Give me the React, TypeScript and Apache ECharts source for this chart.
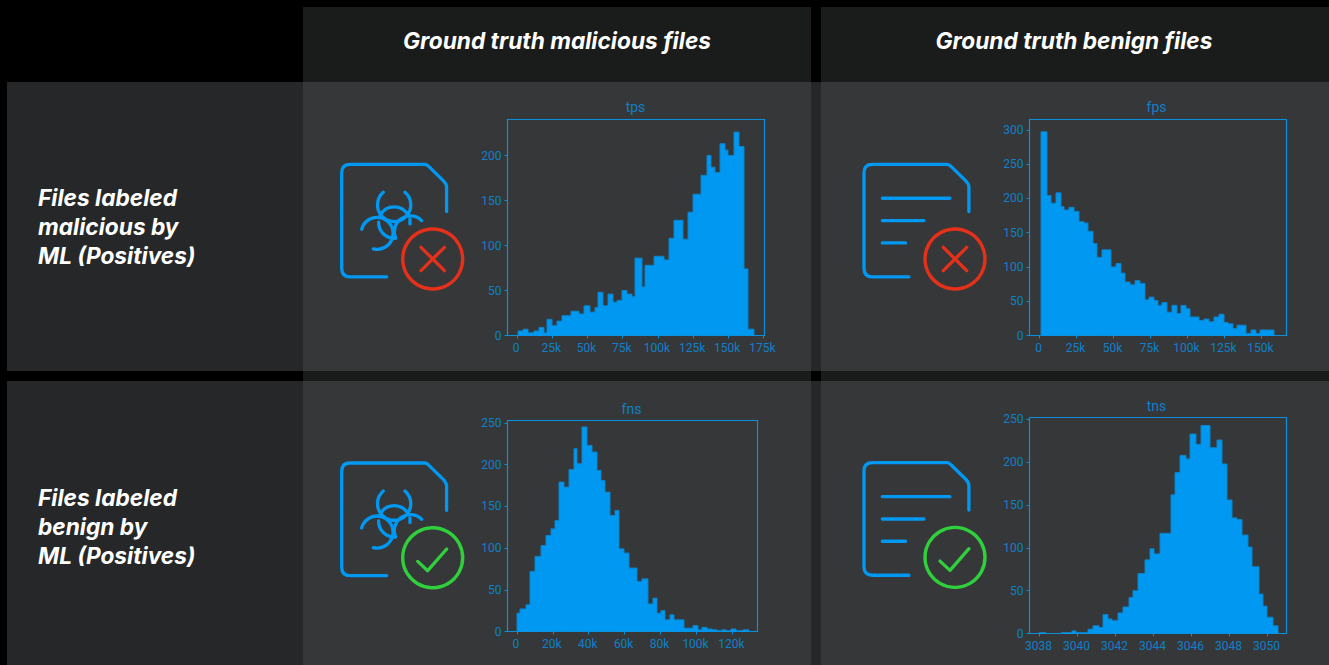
import React, { useEffect, useRef } from "react";
import * as echarts from "echarts";

const columnTitles = ["Ground truth malicious files", "Ground truth benign files"];
const rowLabels = [
  ["Files labeled", "malicious by", "ML (Positives)"],
  ["Files labeled", "benign by", "ML (Positives)"],
];

const tpsEdges = [0.71,4.27,7.83,11.86,15.42,18.98,21.35,24.91,28.46,32.02,38.19,44.12,47.68,51.47,55.03,57.4,60.96,64.52,68.08,70.69,74.24,78.04,81.6,83.97,88.71,91.08,97.25,104.37,108.16,111.72,117.65,121.21,125,130.93,134.73,138.05,140.66,144.22,147.78,150.15,154.18,157.74,161.3,163.91,168.65];
const tpsCounts = [5,7,3,5,9,3,18,11,16,22,27,24,33,26,31,48,33,46,37,39,50,46,43,86,54,78,88,84,108,128,107,137,157,178,200,187,181,213,206,200,226,210,74,7];
const tpsXTicks = [0,25,50,75,100,125,150,175];
const tpsYTicks = [0,50,100,150,200];

const fpsEdges = [0.68,5.18,7.66,11.04,14.41,16.67,20.05,23.42,26.35,29.73,32.66,35.81,38.96,41.89,48.42,51.8,55.18,57.88,60.81,64.64,67.57,70.95,73.65,77.48,80.18,82.88,86.04,89.64,92.79,95.27,98.65,101.8,107.88,111.04,114.64,118.02,121.4,124.55,127.48,130.41,133.78,139.41,143.02,146.4,148.65,158.78];
const fpsCounts = [297,204,193,208,188,183,187,181,166,164,152,134,114,125,100,105,91,78,74,80,76,52,56,51,44,48,34,44,32,44,39,27,22,24,20,27,31,19,17,10,15,3,8,3,8];
const fpsXTicks = [0,25,50,75,100,125,150];
const fpsYTicks = [0,50,100,150,200,250,300];

const fnsEdges = [0,1.86,4.83,7.43,10.22,13.37,15.98,18.76,21.36,23.41,26.19,28.98,31.77,33.62,36.22,39.01,41.8,44.58,46.63,49.23,52.01,54.8,57.03,59.44,62.42,66.87,69.85,72.82,75.6,78.02,80.43,82.66,85.26,87.49,93.07,98.27,100.87,103.28,105.7,108.48,111.27,114.06,116.47,119.07,122.05,126.13,129.1];
const fnsCounts = [22,27,32,72,90,103,115,123,133,179,173,194,219,201,245,223,215,193,181,167,139,145,99,94,76,60,63,33,40,22,25,14,20,14,4,7,2,5,3,2,1,2,1,3,1,2];
const fnsXTicks = [0,20,40,60,80,100,120];
const fnsYTicks = [0,50,100,150,200,250];

const tnsEdges = [3038,3038.33,3039.11,3039.7,3039.93,3040.53,3040.82,3041.12,3041.32,3041.61,3041.82,3042.11,3042.42,3042.72,3042.91,3043.21,3043.53,3043.81,3044.02,3044.32,3044.91,3045.11,3045.4,3045.7,3045.91,3046.23,3046.51,3046.98,3047.32,3047.6,3047.89,3048.12,3048.4,3048.68,3048.98,3049.18,3049.56,3049.75,3049.96,3050.28,3050.56];
const tnsCounts = [1,0,1,3,1,5,9,7,22,17,15,24,31,42,50,70,86,99,93,117,162,188,208,204,233,221,243,217,226,198,156,135,133,115,101,78,46,32,19,9];
const tnsXTicks = [3038,3040,3042,3044,3046,3048,3050];
const tnsYTicks = [0,50,100,150,200,250];

const C = {
  page: "#000000",
  column: "#1a1c1b",
  row: "#262728",
  cell: "#363739",
  fill: "#0098f0",
  edge: "#0a84cc",
  frame: "#0a8fdc",
  label: "#0f80c8",
  icon: "#0098f0",
  red: "#e5301a",
  green: "#2fd03c",
};
const HEAD_FONT = "Inter";
const AXIS_FONT = "Roboto";

const panels = [
  { name: "tps", edges: tpsEdges, counts: tpsCounts, xTicks: tpsXTicks, yTicks: tpsYTicks, suffix: "k", xMin: -6.88, xMax: 175.76, yMax: 240, l: 507.5, r: 764.5, t: 119.5, b: 335.5, titleX: 635, titleY: 95 },
  { name: "fps", edges: fpsEdges, counts: fpsCounts, xTicks: fpsXTicks, yTicks: fpsYTicks, suffix: "k", xMin: -6.76, xMax: 166.89, yMax: 315, l: 1029.5, r: 1286.5, t: 119.5, b: 335.5, titleX: 1156, titleY: 95 },
  { name: "fns", edges: fnsEdges, counts: fnsCounts, xTicks: fnsXTicks, yTicks: fnsYTicks, suffix: "k", xMin: -5.2, xMax: 133.93, yMax: 252.8, l: 507.5, r: 757.5, t: 420.5, b: 631.5, titleX: 631, titleY: 397 },
  { name: "tns", edges: tnsEdges, counts: tnsCounts, xTicks: tnsXTicks, yTicks: tnsYTicks, suffix: "", xMin: 3037.474, xMax: 3051, yMax: 252.3, l: 1029.5, r: 1286.5, t: 417.5, b: 633.5, titleX: 1156, titleY: 394 },
];

function renderBin(_params: any, api: any) {
  const x0 = Math.round(api.coord([api.value(0), 0])[0]);
  const x1 = Math.round(api.coord([api.value(1), 0])[0]);
  const base = api.coord([0, 0])[1];
  const top = api.coord([0, api.value(2)])[1];
  const prev = api.coord([0, api.value(3)])[1];
  const line = { stroke: C.edge, lineWidth: 1, fill: "none" };
  const children: any[] = [];
  if (x1 > x0 && top < base) {
    children.push({ type: "rect", shape: { x: x0, y: top, width: x1 - x0, height: base - top }, style: { fill: C.fill } });
    children.push({ type: "line", shape: { x1: x0, y1: top, x2: x1, y2: top }, style: line });
  }
  if (prev !== top) {
    children.push({ type: "line", shape: { x1: x0, y1: prev, x2: x0, y2: top }, style: line });
  }
  return { type: "group", children };
}

const docPath = "M135 338H25Q0 338 0 312V25Q0 0 25 0H250Q256 0 262 7L305 49Q315 59 315 69V142";
const bioPath =
  "M125 84A50 50 0 1 0 190 84M95 254A48 48 0 1 0 60 195M240 169A48 48 0 0 0 162 222M115 155A47 47 0 0 1 200 155M111 174A47 47 0 0 0 162 222M205 165V179";
const textLinesPath = "M55 102H258M55 169H180M55 236H125";

echarts.graphic.registerShape("iconDoc", echarts.graphic.extendPath(docPath, {}) as any);
echarts.graphic.registerShape("iconBio", echarts.graphic.extendPath(bioPath, {}) as any);
echarts.graphic.registerShape("iconLines", echarts.graphic.extendPath(textLinesPath, {}) as any);

const rect = (x: number, y: number, w: number, h: number, fill: string, z = -10) => ({
  type: "rect", z, silent: true, shape: { x, y, width: w, height: h }, style: { fill },
});

function iconGraphics(ox: number, oy: number, malicious: boolean, positive: boolean) {
  const s = 1 / 3;
  const base = { x: ox, y: oy, scaleX: s, scaleY: s, z: 5, silent: true };
  const stroke = { fill: "none", stroke: C.icon, lineWidth: 10, lineCap: "round", lineJoin: "round" };
  const out: any[] = [{ type: "iconDoc", ...base, style: stroke }];
  out.push(malicious ? { type: "iconBio", ...base, style: stroke } : { type: "iconLines", ...base, style: stroke });
  const cx = ox + 91;
  const cy = oy + 94.7;
  const color = positive ? C.red : C.green;
  const mark = { fill: "none", stroke: color, lineWidth: 3.3, lineCap: "round", lineJoin: "round" };
  out.push({ type: "circle", z: 5, silent: true, shape: { cx, cy, r: 30 }, style: { fill: "none", stroke: color, lineWidth: 3.4 } });
  if (positive) {
    out.push({ type: "line", z: 5, silent: true, shape: { x1: cx - 11.7, y1: cy - 11.7, x2: cx + 11.7, y2: cy + 11.7 }, style: mark });
    out.push({ type: "line", z: 5, silent: true, shape: { x1: cx + 11.7, y1: cy - 11.7, x2: cx - 11.7, y2: cy + 11.7 }, style: mark });
  } else {
    out.push({ type: "polyline", z: 5, silent: true, shape: { points: [[cx - 15, cy + 3.7], [cx - 5, cy + 13], [cx + 14, cy - 8.7]] }, style: mark });
  }
  return out;
}

function buildOption() {
  const graphics: any[] = [
    rect(0, 0, 1329, 665, C.page, -20),
    rect(7, 82, 1322, 289, C.row),
    rect(7, 381, 1322, 284, C.row),
    rect(303, 7, 508, 75, C.column),
    rect(821, 7, 508, 75, C.column),
    rect(303, 371, 508, 10, C.column),
    rect(821, 371, 508, 10, C.column),
    rect(303, 82, 508, 289, C.cell),
    rect(821, 82, 508, 289, C.cell),
    rect(303, 381, 508, 284, C.cell),
    rect(821, 381, 508, 284, C.cell),
  ];
  const headerCenters = [557, 1074];
  columnTitles.forEach((t, i) => {
    graphics.push({
      type: "text", z: 5, silent: true, x: headerCenters[i], y: 40,
      style: { text: t, fill: "#ffffff", font: `italic 700 22.7px ${HEAD_FONT}`, align: "center", verticalAlign: "middle" },
    });
  });
  const rowTops = [198, 498];
  rowLabels.forEach((lines, r) => {
    lines.forEach((t, i) => {
      graphics.push({
        type: "text", z: 5, silent: true, x: 38, y: rowTops[r] + i * 28.8 - 0.5,
        style: { text: t, fill: "#ffffff", font: `italic 700 22.7px ${HEAD_FONT}`, align: "left", verticalAlign: "middle" },
      });
    });
  });
  graphics.push(...iconGraphics(341.7, 164.3, true, true));
  graphics.push(...iconGraphics(864, 164.3, false, true));
  graphics.push(...iconGraphics(341.7, 463, true, false));
  graphics.push(...iconGraphics(864, 462.7, false, false));

  const axisFont = { color: C.label, fontFamily: AXIS_FONT, fontSize: 12 };
  const option: any = {
    animation: false,
    backgroundColor: C.page,
    graphic: graphics,
    title: panels.map((p) => ({
      text: p.name, left: p.titleX - 4.5, top: p.titleY, textAlign: "center",
      textStyle: { color: C.label, fontFamily: AXIS_FONT, fontSize: 14, fontWeight: 400 },
    })),
    grid: panels.map((p) => ({
      left: p.l, top: p.t, width: p.r - p.l, height: p.b - p.t,
      show: true, backgroundColor: "transparent", borderColor: C.frame, borderWidth: 1.2,
    })),
    xAxis: panels.map((p, i) => ({
      type: "value", gridIndex: i, min: p.xMin, max: p.xMax,
      axisLine: { show: false, onZero: false },
      splitLine: { show: false },
      axisTick: { show: true, length: 3, customValues: p.xTicks, lineStyle: { color: C.frame } },
      axisLabel: {
        ...axisFont, margin: 6, padding: [0, 2, 0, 0], customValues: p.xTicks,
        formatter: (v: number) => (v === 0 ? "0" : `${v}${p.suffix}`),
      },
    })),
    yAxis: panels.map((p, i) => ({
      type: "value", gridIndex: i, min: 0, max: p.yMax,
      axisLine: { show: false, onZero: false },
      splitLine: { show: false },
      axisTick: { show: true, length: 3, customValues: p.yTicks, lineStyle: { color: C.frame } },
      axisLabel: { ...axisFont, margin: 6, customValues: p.yTicks },
    })),
    series: panels.map((p, i) => ({
      type: "custom", name: p.name, xAxisIndex: i, yAxisIndex: i, clip: false,
      encode: { x: [0, 1], y: 2 },
      renderItem: renderBin,
      data: [...p.counts, 0].map((c, j, all) => [
        p.edges[j],
        j < p.counts.length ? p.edges[j + 1] : p.edges[j],
        c,
        j === 0 ? 0 : all[j - 1],
      ]),
    })),
  };
  return option;
}

export default function App() {
  const ref = useRef<HTMLDivElement>(null);
  useEffect(() => {
    if (!ref.current) return;
    const chart = echarts.init(ref.current, undefined, { renderer: "svg" });
    chart.setOption(buildOption());
    return () => chart.dispose();
  }, []);
  return <div ref={ref} style={{ position: "fixed", left: 0, top: 0, width: 1329, height: 665, background: C.page }} />;
}
